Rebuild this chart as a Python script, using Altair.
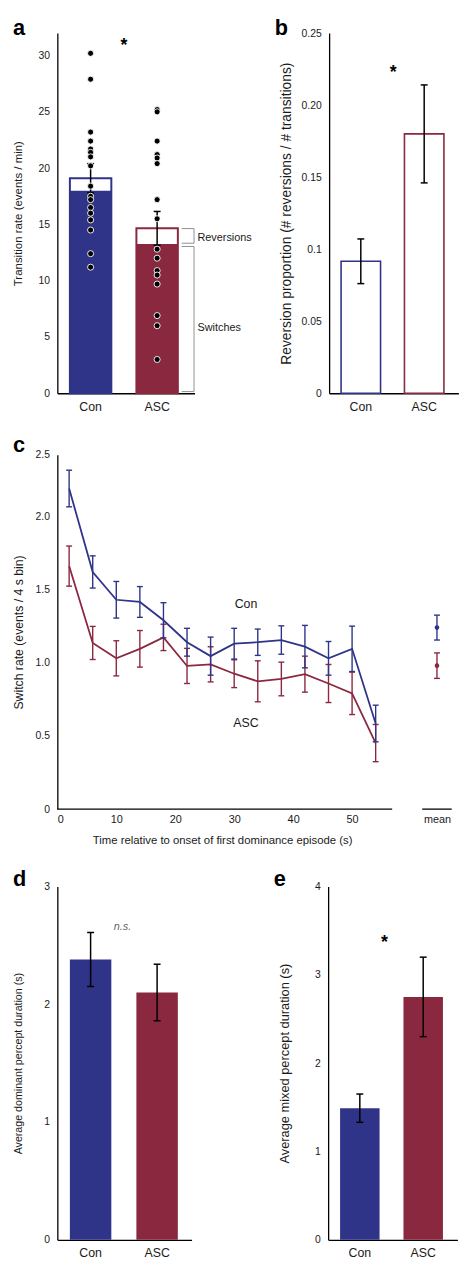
import altair as alt
import pandas as pd

FONT = "Liberation Sans"
CON_C = "#2f3488"
ASC_C = "#8a2840"
TXT = "#1a1a1a"

# ---------------- data ----------------
categories = ["Con", "ASC"]
cat_colors = [CON_C, ASC_C]

# panel a
a_total = [19.1, 14.65]
a_total_sem = [1.3, 1.5]
a_switch = [18.0, 13.25]
a_con_dots = [30.2, 27.9, 23.2, 22.4, 21.7, 21.4, 21.0, 20.2, 18.4, 17.5, 17.2,
              16.5, 16.0, 15.4, 14.5, 12.4, 11.2]
a_asc_dots = [25.2, 25.0, 22.4, 21.2, 20.9, 20.4, 17.2, 15.5, 12.8, 12.0, 10.9,
              10.5, 9.7, 6.9, 6.0, 3.0]
a_bracket_names = ["Reversions", "Switches"]
a_bracket_lo = [13.33, 0.15]
a_bracket_hi = [14.63, 13.04]
a_bracket_label_y = [13.75, 5.8]
a_star_y = 31.1

# panel b
b_mean = [0.0916, 0.180]
b_sem = [0.0155, 0.034]
b_star_y = 0.224

# panel c
c_time = [2, 6, 10, 14, 18, 22, 26, 30, 34, 38, 42, 46, 50, 54]
c_con = [2.19, 1.62, 1.43, 1.415, 1.29, 1.14, 1.045, 1.13, 1.14, 1.155, 1.11, 1.03, 1.095, 0.585]
c_con_sem = [0.125, 0.11, 0.125, 0.105, 0.12, 0.095, 0.13, 0.105, 0.09, 0.097, 0.145, 0.115, 0.155, 0.125]
c_asc = [1.66, 1.135, 1.03, 1.095, 1.173, 0.978, 0.989, 0.925, 0.873, 0.889, 0.922, 0.858, 0.791, 0.451]
c_asc_sem = [0.137, 0.113, 0.12, 0.125, 0.09, 0.12, 0.12, 0.095, 0.14, 0.115, 0.123, 0.13, 0.145, 0.127]
c_mean = [1.24, 0.98]
c_mean_sem = [0.085, 0.087]
c_label_y = [1.40, 0.59]
c_axis_start = [0, 61.9]
c_axis_end = [56.8, 66.9]

# panel d
d_mean = [2.38, 2.10]
d_sem = [0.23, 0.24]
d_ns_y = 2.657

# panel e
e_mean = [1.49, 2.75]
e_sem = [0.16, 0.45]
e_star_y = 3.39

# ---------------- helpers ----------------
col_scale = alt.Scale(domain=categories, range=cat_colors)


def make_y(domain, values, title, title_x, title_size, label_expr=None):
    scale = alt.Scale(domain=domain, nice=False, zero=True)
    kw = dict(title=title, values=values, ticks=False, labelPadding=8,
              labelFontSize=10.5, labelColor=TXT, titleFontSize=title_size,
              titleFontWeight="normal", titleColor=TXT, titleX=title_x,
              domainColor="black", domainWidth=1.3, grid=False)
    if label_expr:
        kw["labelExpr"] = label_expr
    axis = alt.Axis(**kw)

    def y(field=None, datum=None):
        if datum is not None:
            return alt.YDatum(datum, type="quantitative", scale=scale, axis=axis)
        return alt.Y(f"{field}:Q", scale=scale, axis=axis)
    return y


def cat_x(po, align):
    sc = alt.Scale(domain=categories, paddingInner=0, paddingOuter=po, align=align)
    ax = alt.Axis(title=None, labelAngle=0, ticks=False, labelPadding=7,
                  labelFontSize=12.5, labelColor=TXT, domainColor="black",
                  domainWidth=1.3, grid=False)
    return alt.X("cat:N", sort=categories, scale=sc, axis=ax, title=None)


def err_layers(df, x, y, color="black", cap=7, width=1.5):
    rule = alt.Chart(df).mark_rule(color=color, strokeWidth=width, opacity=1).encode(
        x=x, y=y("lo"), y2=alt.Y2("hi:Q"))
    lo = alt.Chart(df).mark_tick(orient="horizontal", size=cap, thickness=width,
                                 color=color, opacity=1).encode(x=x, y=y("lo"))
    hi = alt.Chart(df).mark_tick(orient="horizontal", size=cap, thickness=width,
                                 color=color, opacity=1).encode(x=x, y=y("hi"))
    return [rule, lo, hi]


def letter(ch, lx, ly):
    return alt.Chart(pd.DataFrame({"t": [ch]})).mark_text(
        fontSize=22, fontWeight="bold", align="left", baseline="alphabetic",
        color="black", font=FONT).encode(x=alt.value(lx), y=alt.value(ly), text="t:N")


def mark_label(txt, px, y, datum, size=18, bold=True, italic=False, color="black", dy=3):
    kw = dict(fontSize=size, align="center", baseline="middle", color=color, dy=dy, font=FONT)
    if bold:
        kw["fontWeight"] = "bold"
    if italic:
        kw["fontStyle"] = "italic"
    return alt.Chart(pd.DataFrame({"t": [txt]})).mark_text(**kw).encode(
        x=alt.value(px), y=y(datum=datum), text="t:N")


# ---------------- panel a ----------------
A_W, A_H = 139, 365
df_a = pd.DataFrame({"cat": categories, "total": a_total, "sem": a_total_sem, "switch": a_switch})
df_a["lo"] = df_a["total"] - df_a["sem"]
df_a["hi"] = df_a["total"] + df_a["sem"]
df_dots = pd.DataFrame({"cat": ["Con"] * len(a_con_dots) + ["ASC"] * len(a_asc_dots),
                        "v": a_con_dots + a_asc_dots})
df_br = pd.DataFrame({"name": a_bracket_names, "lo": a_bracket_lo, "hi": a_bracket_hi,
                      "ly": a_bracket_label_y})
ya = make_y([0, 32], [0, 5, 10, 15, 20, 25, 30], "Transition rate (events / min)", -34, 11.6)
xa = cat_x(0.031, 0)

a_layers = [
    alt.Chart(df_a).mark_bar(size=42, fill="white", strokeWidth=2, opacity=1).encode(
        x=xa, y=ya("total"), stroke=alt.Stroke("cat:N", scale=col_scale, legend=None)),
    alt.Chart(df_a).mark_bar(size=42, opacity=1).encode(
        x=xa, y=ya("switch"), fill=alt.Fill("cat:N", scale=col_scale, legend=None)),
    *err_layers(df_a, xa, ya),
    alt.Chart(df_dots).mark_circle(size=38, color="black", stroke="white",
                                   strokeWidth=0.9, opacity=1).encode(x=xa, y=ya("v")),
    alt.Chart(df_br).mark_rule(color="#8f8f8f", strokeWidth=1).encode(
        x=alt.value(138.5), y=ya("lo"), y2=alt.Y2("hi:Q")),
    alt.Chart(df_br).mark_rule(color="#8f8f8f", strokeWidth=1).encode(
        x=alt.value(126), x2=alt.value(138.5), y=ya("hi")),
    alt.Chart(df_br).mark_rule(color="#8f8f8f", strokeWidth=1).encode(
        x=alt.value(126), x2=alt.value(138.5), y=ya("lo")),
    alt.Chart(df_br).mark_text(align="left", baseline="middle", fontSize=11, color=TXT,
                               font=FONT).encode(x=alt.value(142), y=ya("ly"), text="name:N"),
    mark_label("*", 67.4, ya, a_star_y),
    letter("a", -45, 1.5),
]
panel_a = alt.layer(*a_layers).properties(width=A_W, height=A_H)

# ---------------- panel b ----------------
B_W, B_H = 131, 365
df_b = pd.DataFrame({"cat": categories, "m": b_mean, "sem": b_sem})
df_b["lo"] = df_b["m"] - df_b["sem"]
df_b["hi"] = df_b["m"] + df_b["sem"]
yb = make_y([0, 0.25], [0, 0.05, 0.1, 0.15, 0.2, 0.25],
            "Reversion proportion (# reversions / # transitions)", -36, 14,
            "datum.value == 0 ? '0' : (abs(datum.value - 0.1) < 1e-6 ? '0.1' : format(datum.value, '.2f'))")
xb = cat_x(0.02, 0)
b_layers = [
    alt.Chart(df_b).mark_bar(size=40, fill="white", strokeWidth=1.6, opacity=1).encode(
        x=xb, y=yb("m"), stroke=alt.Stroke("cat:N", scale=col_scale, legend=None)),
    *err_layers(df_b, xb, yb),
    mark_label("*", 65, yb, b_star_y),
    letter("b", -55, 1.5),
]
panel_b = alt.layer(*b_layers).properties(width=B_W, height=B_H)

# ---------------- panel c ----------------
C_W, C_H = 402, 359
MEAN_X = 64.4
LABEL_X = 32
c_xscale = alt.Scale(domain=[0, 67.3], nice=False, zero=True)
c_xaxis = alt.Axis(values=[0, 10, 20, 30, 40, 50, MEAN_X],
                   labelExpr="datum.value > 60 ? 'mean' : datum.label",
                   ticks=False, domain=False, labelPadding=5, labelFontSize=11,
                   labelColor=TXT, title="Time relative to onset of first dominance episode (s)",
                   titleFontSize=11.5, titleFontWeight="normal", titleColor=TXT,
                   titleX=167, titlePadding=10, grid=False)


def xc(field=None, datum=None):
    if datum is not None:
        return alt.XDatum(datum, type="quantitative", scale=c_xscale, axis=c_xaxis)
    return alt.X(f"{field}:Q", scale=c_xscale, axis=c_xaxis)


yc = make_y([0, 2.42], [0, 0.5, 1, 1.5, 2, 2.42], "Switch rate (events / 4 s bin)", -32, 12.4,
            "datum.value == 0 ? '0' : (datum.value > 2.4 ? '2.5' : format(datum.value, '.1f'))")

df_ax = pd.DataFrame({"x0": c_axis_start, "x1": c_axis_end, "z": [0, 0]})
c_layers = [
    alt.Chart(df_ax).mark_rule(color="black", strokeWidth=1.3).encode(
        x=xc("x0"), x2=alt.X2("x1:Q"), y=yc("z")),
]
for cat, col, vals, sems in [("ASC", ASC_C, c_asc, c_asc_sem), ("Con", CON_C, c_con, c_con_sem)]:
    d = pd.DataFrame({"t": c_time, "v": vals, "sem": sems})
    d["lo"] = d["v"] - d["sem"]
    d["hi"] = d["v"] + d["sem"]
    c_layers += [
        alt.Chart(d).mark_rule(color=col, strokeWidth=1.4, opacity=1).encode(
            x=xc("t"), y=yc("lo"), y2=alt.Y2("hi:Q")),
        alt.Chart(d).mark_tick(orient="horizontal", size=6, thickness=1.4, color=col,
                               opacity=1).encode(x=xc("t"), y=yc("lo")),
        alt.Chart(d).mark_tick(orient="horizontal", size=6, thickness=1.4, color=col,
                               opacity=1).encode(x=xc("t"), y=yc("hi")),
        alt.Chart(d).mark_line(color=col, strokeWidth=1.8).encode(x=xc("t"), y=yc("v")),
    ]
df_cm = pd.DataFrame({"cat": categories, "v": c_mean, "sem": c_mean_sem})
df_cm["lo"] = df_cm["v"] - df_cm["sem"]
df_cm["hi"] = df_cm["v"] + df_cm["sem"]
cm_color = alt.Color("cat:N", scale=col_scale, legend=None)
c_layers += [
    alt.Chart(df_cm).mark_rule(strokeWidth=1.4, opacity=1).encode(
        x=xc(datum=MEAN_X), y=yc("lo"), y2=alt.Y2("hi:Q"), color=cm_color),
    alt.Chart(df_cm).mark_tick(orient="horizontal", size=6, thickness=1.4, opacity=1).encode(
        x=xc(datum=MEAN_X), y=yc("lo"), color=cm_color),
    alt.Chart(df_cm).mark_tick(orient="horizontal", size=6, thickness=1.4, opacity=1).encode(
        x=xc(datum=MEAN_X), y=yc("hi"), color=cm_color),
    alt.Chart(df_cm).mark_circle(size=22, opacity=1).encode(
        x=xc(datum=MEAN_X), y=yc("v"), color=cm_color),
    alt.Chart(pd.DataFrame({"cat": categories, "y": c_label_y})).mark_text(
        fontSize=12.5, color=TXT, baseline="middle", font=FONT).encode(
        x=xc(datum=LABEL_X), y=yc("y"), text="cat:N"),
    letter("c", -45, -3),
]
panel_c = alt.layer(*c_layers).properties(width=C_W, height=C_H)

# ---------------- panel d ----------------
D_W, D_H = 136, 358
df_d = pd.DataFrame({"cat": categories, "m": d_mean, "sem": d_sem})
df_d["lo"] = df_d["m"] - df_d["sem"]
df_d["hi"] = df_d["m"] + df_d["sem"]
yd = make_y([0, 3], [0, 1, 2, 3], "Average dominant percept duration (s)", -34.5, 10.8)
xd = cat_x(0.009, 0)
d_layers = [
    alt.Chart(df_d).mark_bar(size=42, opacity=1).encode(
        x=xd, y=yd("m"), fill=alt.Fill("cat:N", scale=col_scale, legend=None)),
    *err_layers(df_d, xd, yd),
    mark_label("n.s.", 66, yd, d_ns_y, size=11, bold=False, italic=True, color="#666666", dy=0),
    letter("d", -45, -1),
]
panel_d = alt.layer(*d_layers).properties(width=D_W, height=D_H)

# ---------------- panel e ----------------
E_W, E_H = 131, 358
df_e = pd.DataFrame({"cat": categories, "m": e_mean, "sem": e_sem})
df_e["lo"] = df_e["m"] - df_e["sem"]
df_e["hi"] = df_e["m"] + df_e["sem"]
ye = make_y([0, 4], [0, 1, 2, 3, 4], "Average mixed percept duration (s)", -37, 13)
xe = cat_x(0.02, 0)
e_layers = [
    alt.Chart(df_e).mark_bar(size=40, opacity=1).encode(
        x=xe, y=ye("m"), fill=alt.Fill("cat:N", scale=col_scale, legend=None)),
    *err_layers(df_e, xe, ye),
    mark_label("*", 57, ye, e_star_y),
    letter("e", -55, -1),
]
panel_e = alt.layer(*e_layers).properties(width=E_W, height=E_H)

row0 = alt.hconcat(panel_a, panel_b, spacing=22.4)
row2 = alt.hconcat(panel_d, panel_e, spacing=83.4)

chart = alt.vconcat(row0, panel_c, row2, spacing=21.4).properties(
    padding={"left": 4, "top": 0, "right": 0, "bottom": 0}).configure(
    font=FONT).configure_view(stroke=None).configure_axis(labelFont=FONT, titleFont=FONT)

chart.save("out.html", embed_options={"renderer": "svg", "actions": False})
